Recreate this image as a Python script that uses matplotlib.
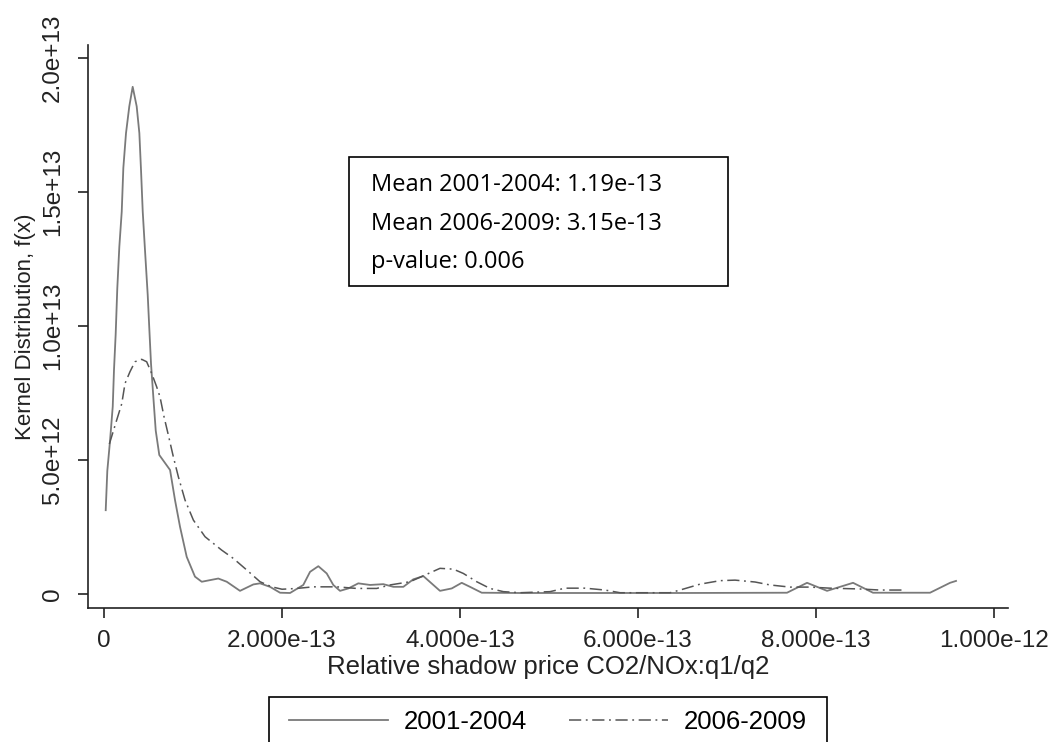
import matplotlib
matplotlib.use("Agg")
import numpy as np
import matplotlib.pyplot as plt
from matplotlib.patches import Rectangle
from matplotlib.lines import Line2D

# kernel density curves
# x in units of 1e-13, density in units of 1e12
x_0104 = [0.019, 0.037, 0.067, 0.098, 0.112, 0.131, 0.149, 0.172, 0.199, 0.217,
          0.247, 0.284, 0.322, 0.367, 0.397, 0.416, 0.435, 0.461, 0.491, 0.509,
          0.528, 0.554, 0.581, 0.621, 0.742, 0.798, 0.854, 0.929, 1.022, 1.098,
          1.284, 1.379, 1.528, 1.678, 1.753, 1.865, 1.978, 2.09, 2.239, 2.315,
          2.408, 2.502, 2.576, 2.652, 2.745, 2.857, 2.989, 3.138, 3.251, 3.363,
          3.475, 3.588, 3.7, 3.775, 3.907, 4.019, 4.112, 4.244, 4.674, 5.124,
          5.573, 6.472, 7.674, 7.899, 8.124, 8.416, 8.64, 9.281, 9.506, 9.573]
y_0104 = [3.13, 4.6, 5.7, 7.0, 8.36, 9.7, 11.4, 12.96, 14.27, 15.9,
          17.2, 18.2, 18.93, 18.2, 17.2, 15.8, 14.27, 12.8, 11.16, 9.9,
          8.6, 7.36, 6.1, 5.19, 4.63, 3.5, 2.51, 1.39, 0.65, 0.46,
          0.58, 0.46, 0.12, 0.36, 0.40, 0.27, 0.05, 0.04, 0.34, 0.83,
          1.04, 0.77, 0.34, 0.12, 0.21, 0.40, 0.34, 0.37, 0.27, 0.27,
          0.55, 0.67, 0.34, 0.12, 0.21, 0.42, 0.27, 0.05, 0.04, 0.04,
          0.04, 0.04, 0.05, 0.42, 0.12, 0.42, 0.05, 0.05, 0.42, 0.49]

x_0609 = [0.06, 0.142, 0.199, 0.236, 0.292, 0.348, 0.423, 0.479, 0.536, 0.592,
          0.629, 0.674, 0.723, 0.779, 0.835, 0.91, 1.004, 1.135, 1.322, 1.453,
          1.603, 1.753, 1.884, 2.0, 2.165, 2.352, 2.615, 2.839, 3.064, 3.213,
          3.438, 3.607, 3.775, 3.925, 4.037, 4.188, 4.337, 4.487, 4.674, 5.011,
          5.18, 5.404, 5.629, 5.798, 6.36, 6.472, 6.697, 6.921, 7.09, 7.315,
          7.483, 7.708, 7.933, 8.157, 8.494, 8.719, 8.978]
y_0609 = [5.6, 6.49, 7.1, 7.86, 8.3, 8.67, 8.76, 8.67, 8.23, 7.73,
          7.36, 6.62, 5.93, 5.12, 4.38, 3.51, 2.76, 2.14, 1.64, 1.33,
          0.9, 0.46, 0.27, 0.18, 0.21, 0.27, 0.27, 0.21, 0.21, 0.34,
          0.46, 0.71, 0.96, 0.93, 0.77, 0.46, 0.21, 0.09, 0.05, 0.09,
          0.22, 0.22, 0.15, 0.05, 0.05, 0.15, 0.37, 0.5, 0.52, 0.45,
          0.34, 0.26, 0.26, 0.22, 0.19, 0.15, 0.15]

x_ticks = [0, 2e-13, 4e-13, 6e-13, 8e-13, 1e-12]
x_labels = ["0", "2.000e-13", "4.000e-13", "6.000e-13", "8.000e-13", "1.000e-12"]
y_ticks = [0, 5e12, 1e13, 1.5e13, 2e13]
y_labels = ["0", "5.0e+12", "1.0e+13", "1.5e+13", "2.0e+13"]

info_lines = ["Mean 2001-2004: 1.19e-13", "Mean 2006-2009: 3.15e-13", "p-value: 0.006"]
series_names = ["2001-2004", "2006-2009"]

plt.rcParams["font.family"] = ["Liberation Sans", "DejaVu Sans"]

W, H = 1061, 742
fig = plt.figure(figsize=(W / 100, H / 100), dpi=100)
ax = fig.add_axes([88 / W, 1 - 608 / H, (1008 - 88) / W, (608 - 45) / H])

line_color = "#7a7a7a"
dd_color = "#555555"
dashdot = (0, (8, 3, 1.2, 3))
ax.plot(np.array(x_0104) * 1e-13, np.array(y_0104) * 1e12, color=line_color, lw=1.3)
ax.plot(np.array(x_0609) * 1e-13, np.array(y_0609) * 1e12, color=dd_color, lw=1.1,
        linestyle=dashdot)

ax.set_xlim(-1.8e-14, 1.0157e-12)
ax.set_ylim(-5.2e11, 2.049e13)
ax.set_xticks(x_ticks, x_labels)
ax.set_yticks(y_ticks, y_labels, rotation=90, va="center")

for s in ["top", "right"]:
    ax.spines[s].set_visible(False)
for s in ["left", "bottom"]:
    ax.spines[s].set_linewidth(1.2)
    ax.spines[s].set_color("#222222")
ax.tick_params(axis="both", length=7.5, width=1.2, color="#222222",
               labelsize=17.5, labelcolor="#222222")
ax.tick_params(axis="x", pad=8)
ax.tick_params(axis="y", pad=10)

ax.set_xlabel("Relative shadow price CO2/NOx:q1/q2", fontsize=18.5, color="#222222")
ax.xaxis.set_label_coords(0.5, -0.083)
ax.set_ylabel("Kernel Distribution, f(x)", fontsize=16, color="#222222")
ax.yaxis.set_label_coords(-0.057, 0.5)

# info box
fig.patches.append(Rectangle((349 / W, 1 - 286 / H), (728 - 349) / W, (286 - 157) / H,
                             transform=fig.transFigure, fill=False, edgecolor="black",
                             lw=1.2, zorder=5))
for i, t in enumerate(info_lines):
    fig.text(371 / W, 1 - (185 + i * 38.5) / H, t, fontsize=17, family="Open Sans",
             va="center", ha="left", color="black")

# legend: frame drawn separately, it runs past the bottom edge like the original
fig.patches.append(Rectangle((269 / W, 1 - 760 / H), (827 - 269) / W, (760 - 697) / H,
                             transform=fig.transFigure, fill=False, edgecolor="black",
                             lw=1.2, zorder=5))
handles = [Line2D([], [], color=line_color, lw=1.3),
           Line2D([], [], color=dd_color, lw=1.1, linestyle=dashdot)]
leg = fig.legend(handles, series_names, loc="center",
                 bbox_to_anchor=(548 / W, 1 - 722 / H), ncol=2, fontsize=18.5,
                 frameon=False, borderpad=0, borderaxespad=0,
                 handlelength=3.85, handletextpad=0.6, columnspacing=1.65)

fig.savefig("out.png", dpi=100)
